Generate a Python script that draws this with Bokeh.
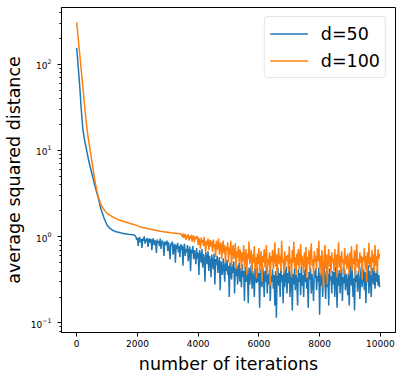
from bokeh.plotting import figure
from bokeh.models import Range1d, Legend, LegendItem, FixedTicker
from bokeh.embed import file_html
from bokeh.resources import INLINE

# ---------------- data ----------------
x_ticks = [0, 2000, 4000, 6000, 8000, 10000]
y_tick_labels = {"0.1": "10\u207b\u00b9", "1": "10\u2070", "10": "10\u00b9", "100": "10\u00b2"}

# d=50 : smooth early phase
blue_iter_smooth = [0, 50, 100, 150, 200, 250, 300, 400, 500, 600, 700, 800,
                    900, 1000, 1100, 1200, 1300, 1500, 1700, 1900]
blue_smooth = [154, 93, 56, 30, 18, 13.7, 11.2, 7.5, 5.4, 3.9, 2.9, 2.1,
               1.65, 1.36, 1.25, 1.18, 1.14, 1.10, 1.07, 1.05]
# d=50 : noisy phase, one value every 25 iterations from 1950 to 9975
blue_noisy = [
    1.0, 0.92, 0.97, 0.78, 0.95, 0.99, 0.86, 0.94, 0.74, 0.96, 0.9, 1.01, 0.83, 0.93, 0.88, 0.97, 0.76, 0.92, 0.95, 0.85,
    0.94, 0.7, 0.9, 0.96, 0.8, 0.91, 0.86, 0.65, 0.93, 0.84, 0.89, 0.78, 0.95, 0.72, 0.87, 0.9, 0.82, 0.6, 0.88, 0.85,
    0.8, 0.9, 0.68, 0.86, 0.74, 0.55, 0.84, 0.79, 0.88, 0.62, 0.76, 0.83, 0.5, 0.8, 0.72, 0.85, 0.66, 0.78, 0.58, 0.82,
    0.7, 0.79, 0.46, 0.74, 0.83, 0.6, 0.72, 0.66, 0.8, 0.52, 0.68, 0.77, 0.4, 0.71, 0.64, 0.78, 0.55, 0.7, 0.62, 0.48,
    0.74, 0.56, 0.65, 0.36, 0.7, 0.6, 0.5, 0.72, 0.44, 0.63, 0.55, 0.3, 0.66, 0.58, 0.48, 0.68, 0.4, 0.6, 0.52, 0.34,
    0.62, 0.5, 0.42, 0.64, 0.28, 0.55, 0.47, 0.6, 0.38, 0.5, 0.58, 0.24, 0.52, 0.44, 0.36, 0.56, 0.46, 0.3, 0.5, 0.4,
    0.54, 0.36, 0.46, 0.2, 0.5, 0.42, 0.32, 0.48, 0.38, 0.52, 0.22, 0.44, 0.35, 0.47, 0.28, 0.4, 0.5, 0.3, 0.43, 0.26,
    0.48, 0.34, 0.4, 0.18, 0.45, 0.3, 0.42, 0.36, 0.17, 0.44, 0.28, 0.38, 0.47, 0.25, 0.4, 0.32, 0.2, 0.43, 0.35, 0.29,
    0.44, 0.3, 0.38, 0.15, 0.42, 0.33, 0.26, 0.45, 0.36, 0.2, 0.4, 0.3, 0.46, 0.22, 0.37, 0.28, 0.41, 0.18, 0.35, 0.3,
    0.42, 0.25, 0.36, 0.16, 0.4, 0.115, 0.33, 0.44, 0.27, 0.38, 0.2, 0.43, 0.3, 0.36, 0.17, 0.41, 0.26, 0.35, 0.45, 0.22,
    0.38, 0.29, 0.46, 0.2, 0.34, 0.4, 0.14, 0.37, 0.28, 0.43, 0.24, 0.36, 0.31, 0.16, 0.42, 0.3, 0.38, 0.21, 0.45, 0.27,
    0.36, 0.2, 0.41, 0.3, 0.47, 0.25, 0.34, 0.15, 0.39, 0.32, 0.44, 0.22, 0.37, 0.28, 0.18, 0.4, 0.33, 0.43, 0.24, 0.35,
    0.3, 0.44, 0.125, 0.38, 0.27, 0.42, 0.2, 0.36, 0.48, 0.3, 0.19, 0.4, 0.26, 0.37, 0.16, 0.43, 0.31, 0.35, 0.22, 0.4,
    0.28, 0.39, 0.2, 0.45, 0.32, 0.15, 0.38, 0.27, 0.41, 0.22, 0.36, 0.44, 0.18, 0.34, 0.29, 0.42, 0.24, 0.37, 0.3, 0.21,
    0.38, 0.16, 0.35, 0.46, 0.27, 0.4, 0.2, 0.33, 0.14, 0.43, 0.3, 0.36, 0.23, 0.4, 0.31, 0.19, 0.37, 0.45, 0.26, 0.34,
    0.42, 0.24, 0.39, 0.17, 0.36, 0.3, 0.47, 0.22, 0.4, 0.33, 0.2, 0.44, 0.35, 0.28, 0.46, 0.25, 0.38, 0.3, 0.42, 0.27, 0.36, 0.26,
]
blue_iter_noisy = list(range(1950, 10000, 25))

# d=100 : smooth early phase
orange_iter_smooth = [0, 50, 100, 150, 200, 250, 300, 350, 400, 500, 600, 700,
                      800, 900, 1000, 1200, 1400, 1600, 1900, 2100, 2400, 2750,
                      3100, 3400]
orange_smooth = [306, 200, 131, 85, 56, 36, 24, 16.5, 12.6, 7.5, 4.45, 3.0,
                 2.35, 2.05, 1.87, 1.69, 1.56, 1.48, 1.38, 1.30, 1.23, 1.16,
                 1.11, 1.08]
# d=100 : noisy phase, one value every 25 iterations from 3450 to 9975
orange_noisy = [
    1.06, 1.0, 1.09, 0.96, 1.03, 1.08, 0.92, 1.02, 0.98, 1.07, 0.9, 1.01, 0.95, 1.05, 0.88, 0.99, 1.04, 0.86, 0.97, 1.0,
    0.94, 1.02, 0.8, 0.96, 0.88, 0.72, 0.98, 0.85, 0.92, 0.78, 1.0, 0.83, 0.66, 0.9, 0.8, 0.95, 0.7, 0.86, 0.92, 0.76,
    0.88, 0.66, 0.93, 0.75, 0.82, 0.58, 0.9, 0.7, 0.8, 0.95, 0.62, 0.78, 0.86, 0.55, 0.74, 0.9, 0.64, 0.8, 0.5, 0.76,
    0.7, 0.86, 0.5, 0.75, 0.62, 0.9, 0.45, 0.7, 0.8, 0.55, 0.66, 0.84, 0.42, 0.68, 0.58, 0.78, 0.5, 0.72, 0.62, 0.4,
    0.66, 0.52, 0.8, 0.44, 0.6, 0.72, 0.36, 0.64, 0.55, 0.88, 0.48, 0.6, 0.7, 0.38, 0.62, 0.5, 0.78, 0.42, 0.58, 0.33,
    0.64, 0.48, 0.74, 0.4, 0.56, 0.68, 0.3, 0.6, 0.5, 0.72, 0.44, 0.58, 0.8, 0.36, 0.55, 0.47, 0.66, 0.27, 0.6, 0.5,
    0.7, 0.42, 0.56, 0.86, 0.45, 0.62, 0.35, 0.58, 0.74, 0.48, 0.6, 0.4, 0.9, 0.5, 0.55, 0.38, 0.68, 0.46, 0.6, 0.52,
    0.62, 0.4, 0.78, 0.48, 0.56, 0.34, 0.7, 0.5, 0.88, 0.44, 0.58, 0.36, 0.64, 0.47, 0.72, 0.42, 0.55, 0.82, 0.45, 0.6,
    0.5, 0.38, 0.66, 0.45, 0.76, 0.33, 0.58, 0.48, 0.7, 0.4, 0.62, 0.84, 0.46, 0.55, 0.36, 0.68, 0.5, 0.6, 0.42, 0.74,
    0.52, 0.9, 0.44, 0.6, 0.35, 0.7, 0.48, 0.25, 0.58, 0.8, 0.42, 0.62, 0.28, 0.55, 0.72, 0.45, 0.6, 0.38, 0.66, 0.5,
    0.56, 0.4, 0.72, 0.46, 0.62, 0.34, 0.58, 0.86, 0.44, 0.6, 0.38, 0.68, 0.5, 0.55, 0.36, 0.74, 0.48, 0.6, 0.42, 0.64,
    0.5, 0.36, 0.66, 0.45, 0.78, 0.4, 0.56, 0.48, 0.7, 0.35, 0.6, 0.82, 0.44, 0.55, 0.38, 0.66, 0.5, 0.6, 0.32, 0.58,
    0.52, 0.74, 0.42, 0.6, 0.3, 0.66, 0.48, 0.85, 0.44, 0.58, 0.36, 0.7, 0.5, 0.62, 0.4, 0.8, 0.46, 0.6, 0.38, 0.72, 0.55, 0.64,
]
orange_iter_noisy = list(range(3450, 10000, 25))

series_labels = ["d=50", "d=100"]
series_colors = ["#1f77b4", "#ff7f0e"]

# ---------------- figure ----------------
FONT = "DejaVu Sans"
p = figure(width=400, height=376,
           x_range=Range1d(-500, 10499), y_range=Range1d(0.0776, 454),
           y_axis_type="log", output_backend="svg", toolbar_location=None,
           min_border_left=61, min_border_right=5, min_border_top=7,
           min_border_bottom=43)
p.background_fill_color = "white"
p.border_fill_color = "white"
p.outline_line_color = "black"
p.outline_line_width = 1
p.xgrid.visible = False
p.ygrid.visible = False

r_blue = p.line(blue_iter_smooth + blue_iter_noisy, blue_smooth + blue_noisy,
                line_color=series_colors[0], line_width=1.5)
r_orange = p.line(orange_iter_smooth + orange_iter_noisy, orange_smooth + orange_noisy,
                  line_color=series_colors[1], line_width=1.5)

for ax in (p.xaxis[0], p.yaxis[0]):
    ax.axis_line_color = "black"
    ax.major_tick_line_color = "black"
    ax.minor_tick_line_color = "black"
    ax.major_tick_out = 4
    ax.major_tick_in = 0
    ax.minor_tick_out = 2
    ax.minor_tick_in = 0
    ax.major_label_text_font = FONT
    ax.major_label_text_font_size = "9px"
    ax.major_label_text_color = "black"
    ax.axis_label_text_font = FONT
    ax.axis_label_text_font_size = "17.5px"
    ax.axis_label_text_font_style = "normal"
    ax.axis_label_text_color = "black"

p.xaxis.ticker = FixedTicker(ticks=x_ticks)
p.xaxis.minor_tick_line_color = None
p.xaxis.axis_label = "number of iterations"
p.xaxis.major_label_standoff = 3
p.xaxis.axis_label_standoff = 4

p.yaxis.axis_label = "average squared distance"
p.yaxis.major_label_overrides = y_tick_labels
p.yaxis.major_label_standoff = 6
p.yaxis.axis_label_standoff = 4

legend = Legend(items=[LegendItem(label=series_labels[0], renderers=[r_blue]),
                       LegendItem(label=series_labels[1], renderers=[r_orange])],
                location="top_right")
legend.label_text_font = FONT
legend.label_text_font_size = "17.5px"
legend.label_text_color = "black"
legend.glyph_width = 38
legend.glyph_height = 23
legend.label_height = 23
legend.label_standoff = 13
legend.spacing = 4
legend.padding = 5
legend.margin = 9
legend.border_line_color = "#cccccc"
legend.border_line_width = 1
legend.background_fill_color = "white"
legend.background_fill_alpha = 0.8
if "border_radius" in Legend.properties():
    legend.border_radius = 4
p.add_layout(legend)

open("out.html", "w").write(file_html(p, INLINE))
